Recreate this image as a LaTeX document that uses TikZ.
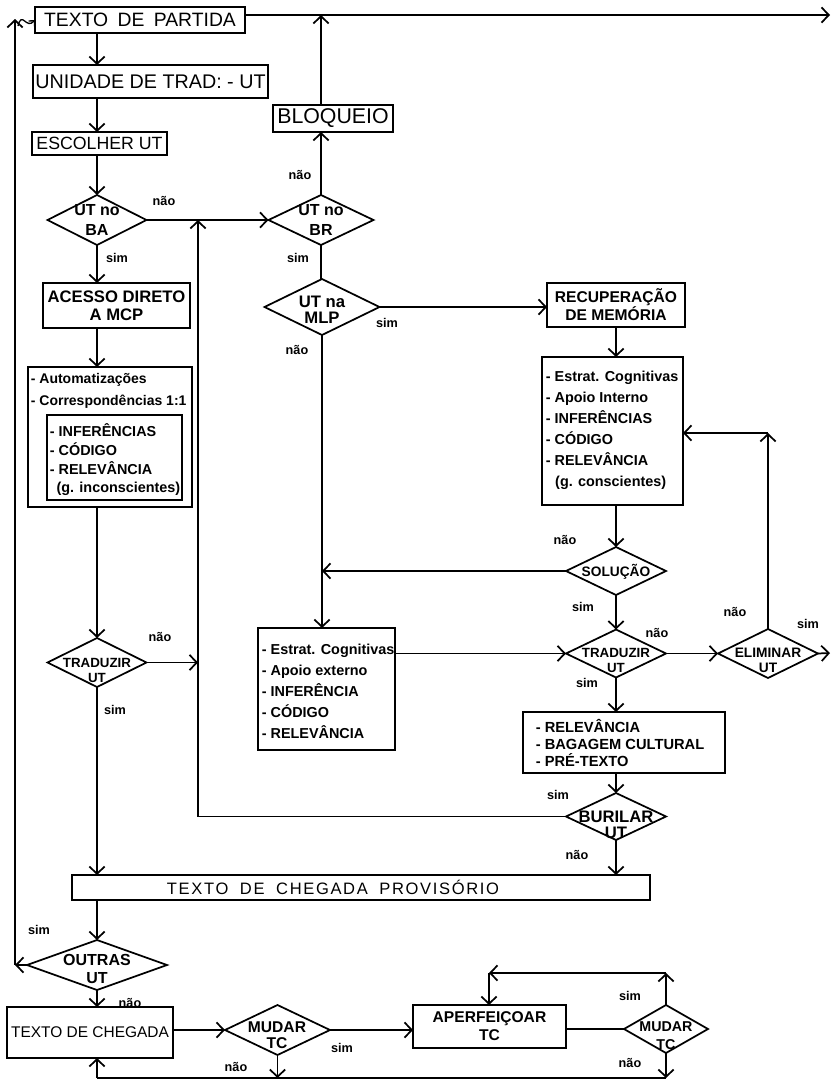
\documentclass[tikz,border=0pt]{standalone}
\usepackage{fontspec}
\setmainfont{Liberation Sans}
\usetikzlibrary{arrows.meta,shapes.geometric}
\tikzset{
 box/.style={draw, rectangle, inner sep=0pt, outer sep=0pt},
 dia/.style={draw, diamond, inner sep=0pt, outer sep=0pt},
 txt/.style={inner sep=0pt, align=center},
 lst/.style={inner sep=0pt, align=left, anchor=west},
 lab/.style={inner sep=0pt, font=\fontsize{9.5}{10}\selectfont\bfseries},
 arr/.style={-{Straight Barb[length=5.5pt,width=11.5pt]}},
}
\begin{document}
\begin{tikzpicture}[x=0.75pt,y=-0.75pt,line width=1.3pt]
\useasboundingbox (0,0) rectangle (831,1086);
% columns / corners
\coordinate (c1) at (97,0);
\coordinate (c2) at (198,0);
\coordinate (c3) at (322,0);
\coordinate (c4) at (616,0);
\coordinate (tr) at (830,15);
\coordinate (tb) at (321,15);
\coordinate (lb) at (15,965);
\coordinate (lt) at (15,19);
\coordinate (sq) at (18,26);
\coordinate (bl) at (97,1078);
\coordinate (lp) at (489,973);
\coordinate (k1) at (768,433);
\coordinate (er) at (830,653);

% rectangles
\node[box, minimum width=157.5pt, minimum height=19.5pt, font=\fontsize{14.5}{16}\selectfont] (tp) at (140,20) {TEXTO\hspace{3pt} DE\hspace{3pt} PARTIDA};
\node[box, minimum width=176.25pt, minimum height=24.75pt, font=\fontsize{14.8}{16}\selectfont] (ud) at (150.5,81.5) {UNIDADE DE TRAD: - UT};
\node[box, minimum width=101.25pt, minimum height=17.25pt, font=\fontsize{13.3}{15}\selectfont] (esc) at (99.5,143.5) {ESCOLHER UT};
\node[box, minimum width=90pt, minimum height=20.25pt, font=\fontsize{16}{18}\selectfont] (blq) at (333,118.5) {BLOQUEIO};
\node[box, txt, minimum width=110.25pt, minimum height=33.75pt, font=\fontsize{12.5}{13.5}\selectfont\bfseries] (acc) at (116.5,305.5) {ACESSO DIRETO\\A MCP};
\node[box, minimum width=123pt, minimum height=105pt] (auto) at (110,437) {};
\node[box, minimum width=101.25pt, minimum height=63.75pt] (inner) at (114.5,457.5) {};
\node[lst, font=\fontsize{10.5}{16.5}\selectfont\bfseries] (autot) at (30,391) {- Automatizações\\- Correspondências 1:1};
\node[lst, font=\fontsize{10.8}{14}\selectfont\bfseries] (innert) at (49,460) {- INFERÊNCIAS\\- CÓDIGO\\- RELEVÂNCIA\\\hspace*{5pt}(g. inconscientes)};
\node[box, txt, minimum width=103.5pt, minimum height=33pt, font=\fontsize{11.7}{13.5}\selectfont\bfseries] (rec) at (616,305) {RECUPERAÇÃO\\DE MEMÓRIA};
\node[box, minimum width=105.75pt, minimum height=111pt] (est1) at (612.5,431) {};
\node[lst, font=\fontsize{10.8}{15.75}\selectfont\bfseries] (est1t) at (545,430) {- Estrat. Cognitivas\\- Apoio Interno\\- INFERÊNCIAS\\- CÓDIGO\\- RELEVÂNCIA\\\hspace*{7pt}(g. conscientes)};
\node[box, minimum width=102.75pt, minimum height=91.5pt] (est2) at (326.5,689) {};
\node[lst, font=\fontsize{10.8}{15.75}\selectfont\bfseries] (est2t) at (261,691) {- Estrat. Cognitivas\\- Apoio externo\\- INFERÊNCIA\\- CÓDIGO\\- RELEVÂNCIA};
\node[box, minimum width=151.5pt, minimum height=45.75pt] (rel) at (624,742.5) {};
\node[lst, font=\fontsize{11}{13}\selectfont\bfseries] (relt) at (535,743) {- RELEVÂNCIA\\- BAGAGEM CULTURAL\\- PRÉ-TEXTO};
\node[box, minimum width=433.5pt, minimum height=18.75pt] (tcp) at (361,887.5) {};
\node[txt, font=\fontsize{12.4}{14}\selectfont\addfontfeatures{LetterSpace=10}] (tcpt) at (333,887.5) {TEXTO\hspace{4pt} DE\hspace{4pt} CHEGADA\hspace{4pt} PROVISÓRIO};
\node[box, minimum width=124.5pt, minimum height=38.25pt, font=\fontsize{11.6}{13}\selectfont] (tc) at (90,1032.5) {TEXTO DE CHEGADA};
\node[box, txt, minimum width=114.75pt, minimum height=32.25pt, font=\fontsize{11.7}{13.5}\selectfont\bfseries] (ap) at (489.5,1026.5) {APERFEIÇOAR\\TC};

% diamonds
\node[dia, minimum width=74.25pt, minimum height=37.5pt] (ba) at (97,220) {};
\node[txt, font=\fontsize{12}{15}\selectfont\bfseries] (bat) at (97,220) {UT no\\BA};
\node[dia, minimum width=78.75pt, minimum height=37.5pt] (br) at (321,220) {};
\node[txt, font=\fontsize{12}{15}\selectfont\bfseries] (brt) at (321,220) {UT no\\BR};
\node[dia, minimum width=86.25pt, minimum height=42pt] (mlp) at (322,307) {};
\node[txt, font=\fontsize{12.5}{12}\selectfont\bfseries] (mlpt) at (322,310) {UT na\\MLP};
\node[dia, minimum width=74.25pt, minimum height=36.75pt] (trl) at (97,662.5) {};
\node[txt, font=\fontsize{10}{11.25}\selectfont\bfseries] (trlt) at (97,670) {TRADUZIR\\UT};
\node[dia, minimum width=75pt, minimum height=36pt] (sol) at (616,571) {};
\node[txt, font=\fontsize{10.3}{11}\selectfont\bfseries] (solt) at (616,572) {SOLUÇÃO};
\node[dia, minimum width=75pt, minimum height=36pt] (trr) at (616,653.5) {};
\node[txt, font=\fontsize{10}{11.25}\selectfont\bfseries] (trrt) at (616,660) {TRADUZIR\\UT};
\node[dia, minimum width=75pt, minimum height=36.75pt] (eli) at (768,653.5) {};
\node[txt, font=\fontsize{10.3}{11}\selectfont\bfseries] (elit) at (768,660) {ELIMINAR\\UT};
\node[dia, minimum width=75pt, minimum height=35.25pt] (bur) at (616,816.5) {};
\node[txt, font=\fontsize{12.5}{12}\selectfont\bfseries] (burt) at (616,825) {BURILAR\\UT};
\node[dia, minimum width=105pt, minimum height=37.5pt] (out) at (97,965) {};
\node[txt, font=\fontsize{12}{13.5}\selectfont\bfseries] (outt) at (97,969) {OUTRAS\\UT};
\node[dia, minimum width=78.75pt, minimum height=37.5pt] (m1) at (277.5,1030) {};
\node[txt, font=\fontsize{11.7}{12}\selectfont\bfseries] (m1t) at (277,1035) {MUDAR\\TC};
\node[dia, minimum width=63pt, minimum height=36pt] (m2) at (666,1029) {};
\node[txt, font=\fontsize{10.7}{13.5}\selectfont\bfseries] (m2t) at (666,1036) {MUDAR\\TC};

% connectors, left column
\draw[arr] (tp.south -| c1) -- (ud.north -| c1);
\draw[arr] (ud.south -| c1) -- (esc.north -| c1);
\draw[arr] (esc.south -| c1) -- (ba.north);
\draw[arr] (ba.east) -- (br.west);
\draw[arr] (ba.south) -- (acc.north -| ba);
\draw[arr] (acc.south -| ba) -- (auto.north -| ba);
\draw[arr] (auto.south -| ba) -- (trl.north);
\draw[arr] (trl.east) -- (trl.east -| c2);
\draw[arr] (trl.south) -- (tcp.north -| trl);
\draw[arr] (tcp.south -| out) -- (out.north);
\draw[arr] (out.west) -- (lb);
\draw[arr] (lb) -- (lt);
\draw[-{Straight Barb[length=3pt,width=6pt]}, line width=1pt] (sq) .. controls (22,10) and (26,30) .. (tp.west);
\draw[arr] (out.south) -- (tc.north -| out);
\draw[arr] (m1.west -| tc.east) -- (m1.west);
\draw[arr] (m1.east) -- (m1.east -| ap.west);
\draw[arr] (m1.south) -- (m1.south |- bl);
\draw (ap.east |- m2.west) -- (m2.west);
\draw[arr] (m2.north) -- (m2.north |- lp);
\draw[arr] (m2.north |- lp) -- (lp);
\draw[arr] (lp) -- (ap.north -| lp);
\draw[arr] (m2.south) -- (m2.south |- bl);
\draw (m2.south |- bl) -- (bl);
\draw[arr] (bl) -- (tc.south -| bl);

% middle and right
\draw[arr] ([yshift=3.75pt]tp.east) -- (tr);
\draw[arr] (br.north) -- (blq.south -| br);
\draw[arr] (blq.north -| tb) -- (tb);
\draw (br.south) -- (mlp.north -| br);
\draw[arr] (mlp.east) -- (mlp.east -| rec.west);
\draw[arr] (mlp.south -| c3) -- (est2.north -| c3);
\draw[arr] (sol.west) -- (sol.west -| c3);
\draw[arr] (rec.south -| c4) -- (est1.north -| c4);
\draw[arr] (est1.south -| c4) -- (sol.north);
\draw[arr] (sol.south) -- (trr.north);
\draw[arr] (trr.west -| est2.east) -- (trr.west);
\draw[arr] (trr.east) -- (eli.west);
\draw[arr] (eli.north) -- (k1);
\draw[arr] (k1) -- (k1 -| est1.east);
\draw[arr] (eli.east) -- (er);
\draw[arr] (trr.south) -- (rel.north -| trr);
\draw[arr] (rel.south -| bur) -- (bur.north);
\draw (bur.west) -- (bur.west -| c2);
\draw[arr] (bur.west -| c2) -- (ba.east -| c2);
\draw[arr] (bur.south) -- (tcp.north -| bur);

% branch labels
\node[lab] (l1) at (164,201) {não};
\node[lab] (l2) at (117,258) {sim};
\node[lab] (l3) at (300,175) {não};
\node[lab] (l4) at (298,258) {sim};
\node[lab] (l5) at (387,323) {sim};
\node[lab] (l6) at (297,350) {não};
\node[lab] (l7) at (565,540) {não};
\node[lab] (l8) at (583,607) {sim};
\node[lab] (l9) at (657,633) {não};
\node[lab] (l10) at (735,612) {não};
\node[lab] (l11) at (808,624) {sim};
\node[lab] (l12) at (587,683) {sim};
\node[lab] (l13) at (558,795) {sim};
\node[lab] (l14) at (577,855) {não};
\node[lab] (l15) at (160,637) {não};
\node[lab] (l16) at (115,710) {sim};
\node[lab] (l17) at (39,930) {sim};
\node[lab] (l18) at (130,1003) {não};
\node[lab] (l19) at (342,1048) {sim};
\node[lab] (l20) at (236,1067) {não};
\node[lab] (l21) at (630,996) {sim};
\node[lab] (l22) at (630,1063) {não};
\end{tikzpicture}
\end{document}
